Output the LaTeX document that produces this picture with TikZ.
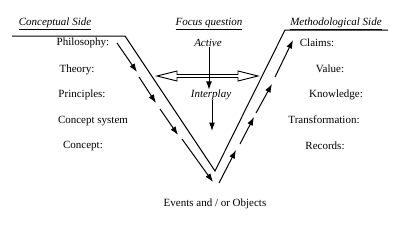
\documentclass[tikz,border=0pt]{standalone}
\usepackage{fontspec}
\setmainfont{Liberation Serif}
\usetikzlibrary{arrows.meta}
\begin{document}
\begin{tikzpicture}[x=1pt,y=-1pt,
    txt/.style={font=\fontsize{11}{13}\selectfont, inner sep=0pt},
    ital/.style={txt, font=\fontsize{11}{13}\selectfont\itshape},
    seg/.style={line width=1pt, -{Latex[length=8.5pt,width=6pt]}}]
    \useasboundingbox (0,0) rectangle (409,234);

    % Headings
    \node[ital] (cside) at (55,24) {\underline{Conceptual Side}};
    \node[ital] (focus) at (209,24) {\underline{Focus question}};
    \node[ital] (mside) at (336,24) {\underline{Methodological Side}};

    % The V
    \draw[line width=1pt] (12,36) -- (125,36) -- (215,171) -- (285,30) -- (388,30);

    % Left side
    \node[txt] (phil) at (83,43) {Philosophy:};
    \node[txt] (theo) at (77,70) {Theory:};
    \node[txt] (prin) at (82,95) {Principles:};
    \node[txt] (csys) at (93,121) {Concept system};
    \node[txt] (conc) at (83,146) {Concept:};

    % Right side
    \node[txt] (clai) at (317,43) {Claims:};
    \node[txt] (valu) at (330,69) {Value:};
    \node[txt] (know) at (336,95) {Knowledge:};
    \node[txt] (tran) at (324,120) {Transformation:};
    \node[txt] (reco) at (325,146) {Records:};

    % Middle
    \node[ital] (act) at (208,43) {Active};
    \node[ital] (inter) at (211,95) {Interplay};
    \node[txt] (event) at (215,204) {Events and / or Objects};

    % Arrows down the left arm and up the right arm
    \foreach \a/\b/\c/\d in {117/43/137/72, 139/77/156/103, 160/109/178/135, 182/139/213/182}
        \draw[seg] (\a,\b) -- (\c,\d);
    \foreach \a/\b/\c/\d in {219/183/236/150, 240/144/254/117, 256/113/272/84, 275/77/293/40}
        \draw[seg] (\a,\b) -- (\c,\d);

    % Interplay arrows
    \draw[seg] (act.south -| 209,0) -- (inter.north -| 209,0);
    \draw[seg] (inter.south -| 212,0) -- (212,131);

    % Double arrow
    \draw[line width=0.9pt] (157,76) -- (177,71) -- (177,74.5) -- (238,74.5) -- (238,71)
        -- (258,76) -- (238,81) -- (238,77.5) -- (177,77.5) -- (177,81) -- cycle;
\end{tikzpicture}
\end{document}
